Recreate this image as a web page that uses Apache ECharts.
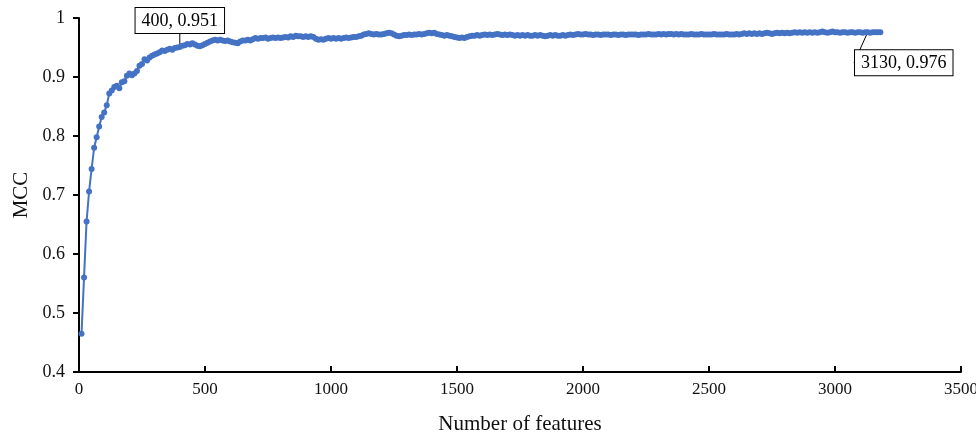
<!DOCTYPE html>
<html>
<head>
<meta charset="utf-8">
<script src="https://cdn.jsdelivr.net/npm/echarts@6/dist/echarts.min.js"></script>
<style>
  html, body { margin: 0; padding: 0; background: #fff; }
  #main { width: 976px; height: 436px; }
</style>
</head>
<body>
<div id="main"></div>
<script>
// 特征数步长（10, 20, ... 3180）
var featureStep = 10;
// MCC 值，每行 10 个点
var mccValues = [
  0.465, 0.560, 0.655, 0.706, 0.744, 0.780, 0.798, 0.816, 0.832, 0.840,
  0.852, 0.872, 0.877, 0.883, 0.885, 0.881, 0.891, 0.893, 0.902, 0.906,
  0.903, 0.906, 0.910, 0.919, 0.922, 0.930, 0.928, 0.933, 0.936, 0.938,
  0.940, 0.942, 0.945, 0.944, 0.946, 0.948, 0.946, 0.949, 0.950, 0.951,
  0.953, 0.954, 0.956, 0.955, 0.957, 0.955, 0.953, 0.952, 0.954, 0.956,
  0.958, 0.960, 0.962, 0.963, 0.962, 0.963, 0.962, 0.961, 0.962, 0.960,
  0.959, 0.958, 0.957, 0.960, 0.962, 0.962, 0.963, 0.962, 0.964, 0.966,
  0.965, 0.966, 0.966, 0.967, 0.965, 0.966, 0.967, 0.966, 0.967, 0.966,
  0.967, 0.968, 0.967, 0.969, 0.968, 0.970, 0.969, 0.969, 0.968, 0.969,
  0.968, 0.969, 0.968, 0.965, 0.963, 0.964, 0.963, 0.965, 0.966, 0.965,
  0.966, 0.965, 0.966, 0.965, 0.966, 0.967, 0.966, 0.967, 0.968, 0.968,
  0.969, 0.970, 0.972, 0.973, 0.974, 0.973, 0.972, 0.973, 0.972, 0.972,
  0.973, 0.974, 0.975, 0.974, 0.972, 0.970, 0.969, 0.970, 0.971, 0.971,
  0.972, 0.971, 0.972, 0.972, 0.973, 0.972, 0.973, 0.974, 0.975, 0.974,
  0.975, 0.973, 0.972, 0.971, 0.970, 0.971, 0.970, 0.969, 0.968, 0.967,
  0.966, 0.967, 0.966, 0.968, 0.969, 0.970, 0.970, 0.971, 0.970, 0.971,
  0.972, 0.971, 0.972, 0.971, 0.972, 0.973, 0.972, 0.971, 0.972, 0.971,
  0.972, 0.971, 0.970, 0.971, 0.970, 0.971, 0.970, 0.971, 0.970, 0.970,
  0.971, 0.970, 0.971, 0.970, 0.969, 0.970, 0.971, 0.970, 0.971, 0.970,
  0.970, 0.971, 0.970, 0.971, 0.972, 0.971, 0.972, 0.973, 0.972, 0.972,
  0.973, 0.972, 0.972, 0.971, 0.972, 0.972, 0.971, 0.972, 0.972, 0.972,
  0.971, 0.972, 0.972, 0.971, 0.972, 0.972, 0.971, 0.972, 0.972, 0.972,
  0.972, 0.971, 0.972, 0.972, 0.972, 0.973, 0.972, 0.972, 0.972, 0.973,
  0.972, 0.973, 0.972, 0.973, 0.973, 0.972, 0.973, 0.972, 0.973, 0.972,
  0.972, 0.972, 0.973, 0.972, 0.972, 0.972, 0.973, 0.972, 0.972, 0.972,
  0.972, 0.973, 0.972, 0.972, 0.972, 0.972, 0.973, 0.972, 0.972, 0.972,
  0.973, 0.972, 0.973, 0.974, 0.973, 0.974, 0.973, 0.974, 0.973, 0.974,
  0.973, 0.974, 0.975, 0.974, 0.973, 0.974, 0.975, 0.974, 0.975, 0.974,
  0.975, 0.974, 0.975, 0.976, 0.975, 0.976, 0.975, 0.976, 0.975, 0.976,
  0.975, 0.976, 0.975, 0.976, 0.977, 0.976, 0.975, 0.976, 0.977, 0.976,
  0.976, 0.975, 0.976, 0.976, 0.975, 0.976, 0.976, 0.975, 0.976, 0.976,
  0.975, 0.976, 0.976, 0.975, 0.976, 0.976, 0.976, 0.976
];
// 标注点（特征数）
var calloutUp = 400;
var calloutDown = 3130;

var serif = '"Liberation Serif", "Times New Roman", serif';

var seriesData = [];
for (var i = 0; i < mccValues.length; i++) {
  var n = (i + 1) * featureStep;
  var item = { value: [n, mccValues[i]] };
  if (n === calloutUp) {
    item.label = { show: true, position: 'top' };
  } else if (n === calloutDown) {
    item.label = { show: true, position: 'bottom' };
  }
  seriesData.push(item);
}

var chart = echarts.init(document.getElementById('main'));
var option = {
  animation: false,
  grid: { left: 79, right: 15, top: 18, bottom: 64, containLabel: false, outerBoundsMode: 'none' },
  xAxis: {
    type: 'value',
    min: 0, max: 3500, interval: 500,
    name: 'Number of features',
    nameLocation: 'middle',
    nameGap: 42,
    nameTextStyle: { fontFamily: serif, fontSize: 21, color: '#111' },
    axisLine: { lineStyle: { color: '#000', width: 2 } },
    axisTick: { inside: true, length: 6, lineStyle: { color: '#000', width: 2 } },
    axisLabel: {
      fontFamily: serif, fontSize: 17, color: '#111', margin: 9,
      formatter: function (v) { return String(v); }
    },
    splitLine: { show: false }
  },
  yAxis: {
    type: 'value',
    min: 0.4, max: 1, interval: 0.1,
    name: 'MCC',
    nameLocation: 'middle',
    nameGap: 46,
    nameTextStyle: { fontFamily: serif, fontSize: 21, color: '#111' },
    axisLine: { show: true, lineStyle: { color: '#000', width: 2 } },
    axisTick: { show: true, length: 6, lineStyle: { color: '#000', width: 2 } },
    axisLabel: { fontFamily: serif, fontSize: 18, color: '#111', margin: 14 },
    splitLine: { show: false }
  },
  series: [{
    type: 'line',
    data: seriesData,
    symbol: 'circle',
    symbolSize: 6,
    showAllSymbol: true,
    itemStyle: { color: '#4472C4' },
    lineStyle: { color: '#4472C4', width: 2 },
    label: {
      show: false,
      fontFamily: serif,
      fontSize: 18,
      color: '#000',
      backgroundColor: '#fff',
      borderColor: '#000',
      borderWidth: 1,
      padding: [4, 6, 3, 6],
      formatter: function (p) {
        return p.value[0] + ', ' + p.value[1].toFixed(3);
      }
    },
    labelLine: { show: true, lineStyle: { color: '#000', width: 1 } },
    labelLayout: function (p) {
      var n = (p.dataIndex + 1) * featureStep;
      if (n === calloutUp) return { dy: -6 };
      if (n === calloutDown) return { dx: 36, dy: 10 };
      return {};
    }
  }]
};
chart.setOption(option);
</script>
</body>
</html>
